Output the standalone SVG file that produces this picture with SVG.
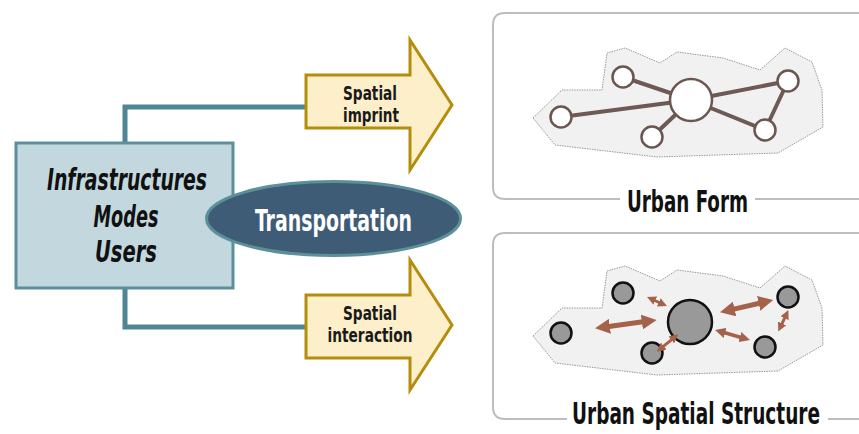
<svg xmlns="http://www.w3.org/2000/svg" width="859" height="434" viewBox="0 0 859 434">
<defs>
<style>
.cond{font-family:"DejaVu Sans Condensed","Liberation Sans Narrow","DejaVu Sans",sans-serif;}
.conn{fill:none;stroke:#4f8595;stroke-width:5;}
.arrowshape{fill:#fdefc9;stroke:#b58d0c;stroke-width:3;stroke-linejoin:miter;}
.atext{font-size:19px;font-weight:bold;fill:#1a1a1a;text-anchor:middle;}
.panel{fill:none;stroke:#bdbdbd;stroke-width:2;}
.title{font-size:30px;font-weight:bold;fill:#111;text-anchor:middle;}
.blob{fill:#f1f1f1;stroke:#999;stroke-width:1;stroke-dasharray:1.5 1;}
.fl{stroke:#6e5a55;stroke-width:4;stroke-linecap:round;}
.fn{fill:#fff;stroke:#6b5650;stroke-width:2.5;}
.sn{fill:#999;stroke:#111;stroke-width:2.5;}
.ia{stroke:#a5624a;fill:none;marker-start:url(#ah);marker-end:url(#ah);}
.lt{font-size:30px;font-style:italic;font-weight:bold;fill:#111;text-anchor:middle;}
</style>
<marker id="ah" viewBox="0 0 10 10" refX="2" refY="5" markerWidth="3" markerHeight="3" orient="auto-start-reverse" markerUnits="strokeWidth">
<path d="M0,0 L10,5 L0,10 z" fill="#a5624a"/>
</marker>
<polygon id="blobshape" points="533,118 562,90 602,90 607,53 625,48 660,63 677,52 723,58 760,70 785,48 812,62 822,90 823,127 778,153 657,157 555,145"/>
</defs>

<g id="connectors">
<polyline class="conn" points="125,143 125,107 306,107"/>
<polyline class="conn" points="125,288 125,327 306,327"/>
</g>

<g id="source">
<rect x="16" y="143" width="217" height="145" fill="#c2d8de" stroke="#5b8f9b" stroke-width="3"/>
<text class="cond lt" x="127" y="190" textLength="160" lengthAdjust="spacingAndGlyphs">Infrastructures</text>
<text class="cond lt" x="126" y="227" textLength="65" lengthAdjust="spacingAndGlyphs">Modes</text>
<text class="cond lt" x="126" y="262" textLength="62" lengthAdjust="spacingAndGlyphs">Users</text>
</g>

<g id="transportation">
<ellipse cx="333.5" cy="218.5" rx="127" ry="37" fill="#3f5c77" stroke="#5b9098" stroke-width="3"/>
<text class="cond" x="333.5" y="231" font-size="31" font-weight="bold" fill="#fff" text-anchor="middle" textLength="157" lengthAdjust="spacingAndGlyphs">Transportation</text>
</g>

<g id="spatial-imprint">
<polygon class="arrowshape" points="306,75 410,75 410,40 452,105 410,170 410,128 306,128"/>
<text class="cond atext" x="370" y="100" textLength="54" lengthAdjust="spacingAndGlyphs">Spatial</text>
<text class="cond atext" x="371" y="122" textLength="56" lengthAdjust="spacingAndGlyphs">imprint</text>
</g>

<g id="spatial-interaction">
<polygon class="arrowshape" points="306,295 410,295 410,260 452,325 410,390 410,358 306,358"/>
<text class="cond atext" x="370" y="320" textLength="54" lengthAdjust="spacingAndGlyphs">Spatial</text>
<text class="cond atext" x="370" y="342" textLength="85" lengthAdjust="spacingAndGlyphs">interaction</text>
</g>

<g id="urban-form">
<path class="panel" d="M620,199 L505,199 Q493,199 493,187 L493,25 Q493,13 505,13 L860,13 M755,199 L860,199"/>
<use href="#blobshape" class="blob"/>
<line class="fl" x1="561" y1="117" x2="691" y2="100"/>
<line class="fl" x1="623" y1="77" x2="691" y2="100"/>
<line class="fl" x1="652" y1="137" x2="691" y2="100"/>
<line class="fl" x1="691" y1="100" x2="788" y2="81"/>
<line class="fl" x1="691" y1="100" x2="765" y2="130"/>
<line class="fl" x1="788" y1="81" x2="765" y2="130"/>
<circle class="fn" cx="691" cy="100" r="21"/>
<circle class="fn" cx="623" cy="77" r="10.5"/>
<circle class="fn" cx="561" cy="117" r="10.5"/>
<circle class="fn" cx="652" cy="137" r="10.5"/>
<circle class="fn" cx="788" cy="81" r="10.5"/>
<circle class="fn" cx="765" cy="130" r="10.5"/>
<text class="cond title" x="687.5" y="212" textLength="121" lengthAdjust="spacingAndGlyphs">Urban Form</text>
</g>

<g id="urban-spatial-structure">
<path class="panel" d="M567,419 L505,419 Q493,419 493,407 L493,245 Q493,233 505,233 L860,233 M828,419 L860,419"/>
<use href="#blobshape" class="blob" transform="translate(0,218)"/>
<circle class="sn" cx="690" cy="322" r="22"/>
<circle class="sn" cx="623" cy="293" r="10.5"/>
<circle class="sn" cx="561" cy="333" r="10.5"/>
<circle class="sn" cx="652" cy="353" r="10.5"/>
<circle class="sn" cx="788" cy="297" r="10.5"/>
<circle class="sn" cx="765" cy="347" r="10.5"/>
<line class="ia" stroke-width="5" x1="606.9" y1="326.7" x2="644.8" y2="321.6"/>
<line class="ia" stroke-width="3" x1="653.6" y1="300" x2="660.4" y2="303"/>
<line class="ia" stroke-width="5" x1="731.7" y1="309.6" x2="761.6" y2="302.7"/>
<line class="ia" stroke-width="3.5" x1="723.1" y1="332.3" x2="741.9" y2="337.7"/>
<line class="ia" stroke-width="3" x1="662.3" y1="347.2" x2="672.7" y2="338.8"/>
<line class="ia" stroke-width="3" x1="785.3" y1="316.6" x2="781.3" y2="325.1"/>
<text class="cond title" x="696" y="424" font-size="25" textLength="248" lengthAdjust="spacingAndGlyphs">Urban Spatial Structure</text>
</g>
</svg>
